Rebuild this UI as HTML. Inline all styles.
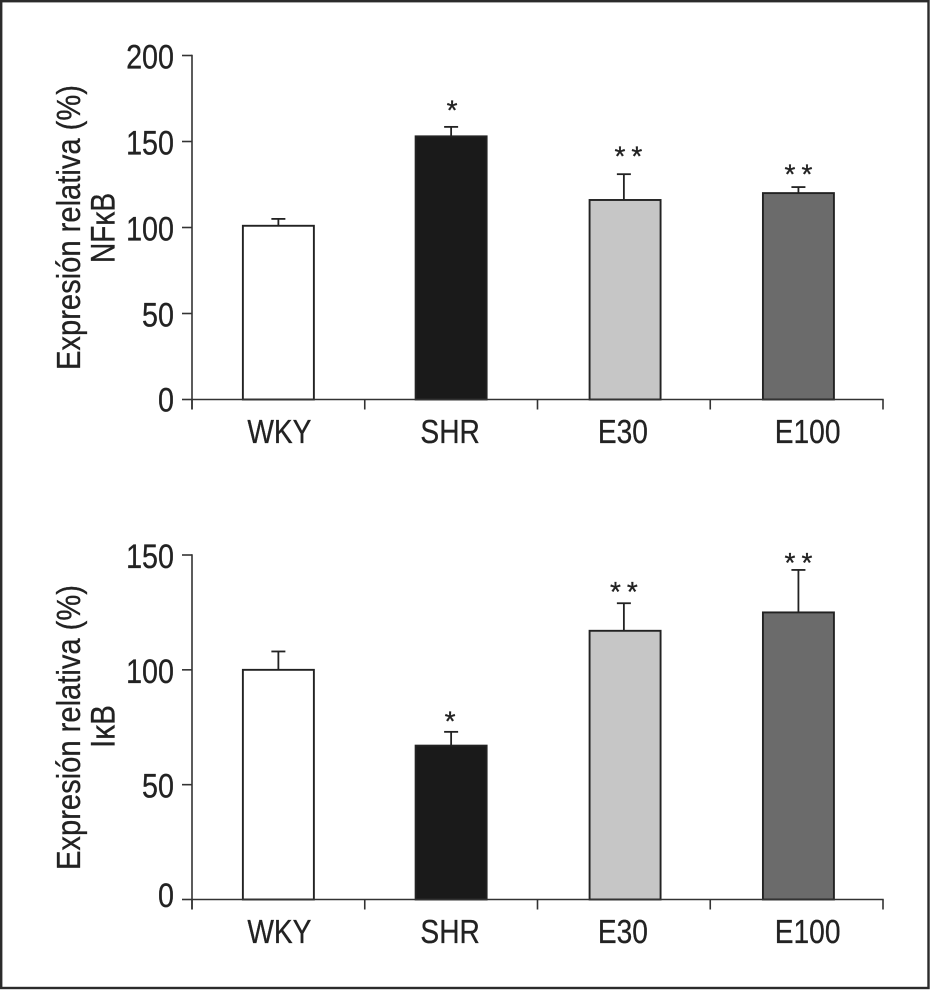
<!DOCTYPE html>
<html lang="es">
<head>
<meta charset="utf-8">
<title>Expresión relativa NFκB e IκB</title>
<style>
html,body{margin:0;padding:0;background:#fff;}
svg{display:block;}
text{font-family:"Liberation Sans",sans-serif;fill:#222;stroke:#222;stroke-width:0.3px;}
</style>
</head>
<body>
<svg id="figure" xmlns="http://www.w3.org/2000/svg" width="931" height="990" viewBox="0 0 931 990">
  <rect x="1.2" y="1.2" width="927.3" height="986.8" fill="#fff" stroke="#2b2b2b" stroke-width="2.4"/>
</svg>
<script>
// ---- Data ----
const categories = ['WKY', 'SHR', 'E30', 'E100'];
const barFills = ['#ffffff', '#1a1a1a', '#c6c6c6', '#6b6b6b'];

const nfkbValues = [101, 153, 116, 120];
const nfkbErrors = [4, 5.5, 15, 3.5];
const nfkbStars = ['', '*', '* *', '* *'];
const nfkbStarLevels = [0, 169.5, 142.8, 132.3];
const nfkbTicks = [0, 50, 100, 150, 200];
const nfkbTickLabels = ['0', '50', '100', '150', '200'];

const ikbValues = [100, 67, 117, 125];
const ikbErrors = [8, 6, 12, 18.5];
const ikbStars = ['', '*', '* *', '* *'];
const ikbStarLevels = [0, 78.7, 135, 147.6];
const ikbTicks = [0, 50, 100, 150];
const ikbTickLabels = ['0', '50', '100', '150'];

const svg = document.getElementById('figure');
const NS = 'http://www.w3.org/2000/svg';

function make(tag, attrs, parent) {
  const el = document.createElementNS(NS, tag);
  for (const k in attrs) el.setAttribute(k, attrs[k]);
  parent.appendChild(el);
  return el;
}

function line(parent, x1, y1, x2, y2, width, color) {
  return make('line', {x1: x1, y1: y1, x2: x2, y2: y2, stroke: color, 'stroke-width': width}, parent);
}

function label(parent, str, x, y, size, anchor, scaleX) {
  const t = make('text', {
    transform: 'translate(' + x + ',' + y + ') scale(' + scaleX + ',1)',
    'font-size': size,
    'text-anchor': anchor
  }, parent);
  t.textContent = str;
  return t;
}

function rotatedLabel(parent, str, x, centerY, size, length) {
  const t = make('text', {
    transform: 'translate(' + x + ',' + centerY + ') rotate(-90)',
    'font-size': size,
    'text-anchor': 'middle',
    textLength: length,
    lengthAdjust: 'spacingAndGlyphs'
  }, parent);
  t.textContent = str;
  return t;
}

function drawChart(cfg) {
  const g = make('g', {}, svg);
  
  

  const axisLeft = 192, axisRight = 883, tickLen = 10;
  const band = (axisRight - axisLeft) / categories.length;
  const maxTick = cfg.ticks[cfg.ticks.length - 1];
  const yScale = v => cfg.y0 - (v / maxTick) * (cfg.y0 - cfg.yTop);
  const xCenter = i => axisLeft + band * (i + 0.5) + (i === 3 ? 1.8 : 0);
  const barShift = i => (i === 2 ? 1.2 : 0);
  const labelShift = i => (i === 0 ? 1 : i === 3 ? 11 : -1);
  const starShift = i => (i === 1 ? cfg.shrStarDx : i === 2 ? cfg.e30StarDx : 0);
  const barW = 71;
  const capHalf = 7;
  const axisColor = '#333';

  // bars and error bars
  categories.forEach((c, i) => {
    const cx = xCenter(i);
    const top = yScale(cfg.values[i]);
    const capY = yScale(cfg.values[i] + cfg.errors[i]);

    const err = make('g', {}, g);
    
    
    line(err, cx, top, cx, capY, 1.8, '#222');
    line(err, cx - capHalf, capY, cx + capHalf, capY, 1.8, '#222');

    const bar = make('rect', {
      x: cx + barShift(i) - barW / 2, y: top, width: barW, height: cfg.y0 - top,
      fill: barFills[i], stroke: '#222', 'stroke-width': 1.9
    }, g);
    
    

    if (cfg.stars[i]) {
      const s = label(g, cfg.stars[i], cx + starShift(i), yScale(cfg.starLevels[i]) + 11.5, 28, 'middle', 1);
      s.setAttribute('word-spacing', '-1.7');
      
      
    }

    const xl = label(g, c, cx + labelShift(i) - (i === 3 ? 1.8 : 0), cfg.y0 + 43.5, 33.5, 'middle', 0.84);
    
    
  });

  // y axis
  const yAxis = make('g', {}, g);
  
  
  line(yAxis, axisLeft, cfg.yTop - 0.7, axisLeft, cfg.y0 + tickLen, 1.6, axisColor);
  cfg.ticks.forEach((t, i) => {
    const y = yScale(t);
    line(yAxis, axisLeft - tickLen, y, axisLeft, y, 1.6, axisColor);
    const dy = (t === 0 ? cfg.zeroLabelDy : 13);
    const tl = label(yAxis, cfg.tickLabels[i], 174, y + dy, 34, 'end', 0.845);
    
    
  });

  // x axis
  const xAxis = make('g', {}, g);
  
  
  line(xAxis, axisLeft, cfg.y0, axisRight + 0.7, cfg.y0, 1.6, axisColor);
  for (let i = 0; i <= categories.length; i++) {
    const x = axisLeft + band * i;
    line(xAxis, x, cfg.y0, x, cfg.y0 + tickLen, 1.6, axisColor);
  }

  // y titles
  const t1 = rotatedLabel(g, 'Expresión relativa (%)', 80, cfg.titleCenter, 33, 285);
  
  
  const t2 = rotatedLabel(g, cfg.subtitle, 114.5, cfg.subCenter, 34, cfg.subLength);
  
  
}

drawChart({
  name: 'nfkb-chart', y0: 399.5, yTop: 55.5,
  values: nfkbValues, errors: nfkbErrors, stars: nfkbStars, starLevels: nfkbStarLevels,
  ticks: nfkbTicks, tickLabels: nfkbTickLabels, zeroLabelDy: 12,
  shrStarDx: 1, e30StarDx: 4.5,
  subtitle: 'NFκB', titleCenter: 227.5, subCenter: 228, subLength: 70
});

drawChart({
  name: 'ikb-chart', y0: 899.5, yTop: 555,
  values: ikbValues, errors: ikbErrors, stars: ikbStars, starLevels: ikbStarLevels,
  ticks: ikbTicks, tickLabels: ikbTickLabels, zeroLabelDy: 7.5,
  shrStarDx: -1, e30StarDx: 0,
  subtitle: 'IκB', titleCenter: 727.5, subCenter: 726.5, subLength: 43
});
</script>
</body>
</html>
